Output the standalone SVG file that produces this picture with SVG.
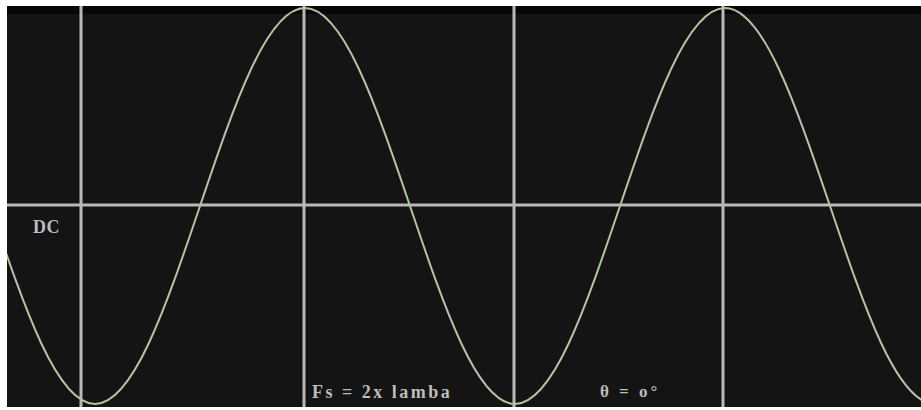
<svg xmlns="http://www.w3.org/2000/svg" width="921" height="410" viewBox="0 0 921 410">
<style>
.grid{stroke:#b9b9b9;stroke-width:3;fill:none}
.wave{stroke:#b4c4a0;stroke-width:2;fill:none}
.lbl{font-family:"Liberation Serif","DejaVu Serif",serif;font-weight:bold;fill:#bdbdbd}
</style>
<defs><clipPath id="plot"><rect x="7" y="6" width="914" height="401"/></clipPath></defs>
<rect width="921" height="410" fill="#ffffff"/>
<rect x="7" y="6" width="914" height="401" fill="#141414"/>
<rect x="7" y="6" width="914" height="8" fill="#070707"/>
<g id="grid">
<line class="grid" x1="7" y1="205" x2="921" y2="205"/>
<line class="grid" x1="81" y1="6" x2="81" y2="407"/>
<line class="grid" x1="304" y1="6" x2="304" y2="407"/>
<line class="grid" x1="514" y1="6" x2="514" y2="407"/>
<line class="grid" x1="723" y1="6" x2="723" y2="407"/>
</g>
<g id="wave" clip-path="url(#plot)">
<path class="wave" d="M -10 206 C 24.24 307.4, 57 404, 95 404 C 133 404, 165.76 307.4, 200 206 C 234.24 104.6, 267 8, 305 8 C 343 8, 375.76 104.6, 410 206 C 444.24 307.4, 477 404, 515 404 C 553 404, 585.76 307.4, 620 206 C 654.24 104.6, 687 8, 725 8 C 763 8, 795.76 104.6, 830 206 C 864.24 307.4, 897 404, 935 404"/>
</g>
<g id="labels">
<text class="lbl" x="33" y="233" font-size="18" letter-spacing="0.5">DC</text>
<text class="lbl" x="312" y="398" font-size="18" letter-spacing="2.5">Fs = 2x lamba</text>
<text class="lbl" x="600" y="397" font-size="17" letter-spacing="3">θ = o°</text>
</g>
</svg>
